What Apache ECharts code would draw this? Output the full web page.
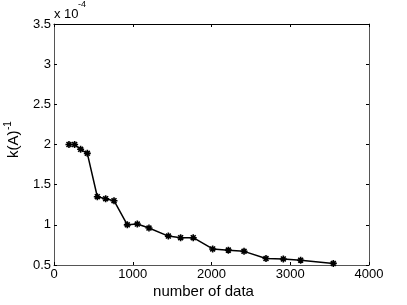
<!DOCTYPE html>
<html><head><meta charset="utf-8">
<script src="https://cdn.jsdelivr.net/npm/echarts@6/dist/echarts.min.js"></script>
<style>html,body{margin:0;padding:0;background:#fff}#c{width:407px;height:305px}</style>
</head><body><div id="c"></div>
<script>
const xValues = [190, 262, 338, 423, 550, 656, 762, 931, 1058, 1206, 1452, 1608, 1768, 2015, 2214, 2413, 2692, 2912, 3132, 3547];
const yValues = [2.0, 2.0, 1.94, 1.89, 1.35, 1.325, 1.30, 1.0, 1.01, 0.96, 0.86, 0.84, 0.84, 0.70, 0.685, 0.67, 0.58, 0.575, 0.56, 0.52];
const xTicks = [0, 1000, 2000, 3000, 4000];
const yTicks = [0.5, 1, 1.5, 2, 2.5, 3, 3.5];

const chart = echarts.init(document.getElementById('c'), null, {renderer: 'canvas'});
const font = 'Liberation Sans, Arial, sans-serif';
const axisCol = '#555';
const starPath = 'path://M0,-5L0,5M-5,0L5,0M-3.5,-3.5L3.5,3.5M-3.5,3.5L3.5,-3.5';
const baseX = {
  type: 'value', min: xTicks[0], max: xTicks[xTicks.length-1], interval: 1000,
  splitLine: {show: false},
  axisLine: {show: true, onZero: false, lineStyle: {color: axisCol, width: 1}},
  axisTick: {show: true, inside: true, length: 3, lineStyle: {color: '#000'}},
};
const baseY = {
  type: 'value', min: yTicks[0], max: yTicks[yTicks.length-1], interval: 0.5,
  splitLine: {show: false},
  axisLine: {show: true, onZero: false, lineStyle: {color: axisCol, width: 1}},
  axisTick: {show: true, inside: true, length: 3, lineStyle: {color: '#000'}},
};
chart.setOption({
  animation: false,
  grid: {left: 54, right: 38, top: 24, bottom: 40, show: false},
  xAxis: [
    Object.assign({}, baseX, {position: 'bottom',
      axisLabel: {color: '#000', fontFamily: font, fontSize: 13, margin: 3,
        formatter: v => String(v)}}),
    Object.assign({}, baseX, {position: 'top', axisLabel: {show: false},
      axisLine: {show: true, onZero: false, lineStyle: {color: '#000', width: 1}}})
  ],
  yAxis: [
    Object.assign({}, baseY, {position: 'left',
      axisLabel: {color: '#000', fontFamily: font, fontSize: 13, margin: 3,
        formatter: v => String(v)}}),
    Object.assign({}, baseY, {position: 'right', axisLabel: {show: false}})
  ],
  series: [{
    type: 'line',
    xAxisIndex: 0, yAxisIndex: 0,
    data: xValues.map((x, i) => [x, yValues[i]]),
    lineStyle: {color: '#000', width: 1.5},
    symbol: starPath,
    symbolSize: 7,
    itemStyle: {color: '#000', borderColor: '#000', borderWidth: 1.6},
    showSymbol: true
  }],
  graphic: [
    {type: 'text', left: 54, top: 8, style: {text: 'x 10', font: '13px ' + font, fill: '#000'}},
    {type: 'text', left: 78, top: 0, style: {text: '-4', font: '9px ' + font, fill: '#000'}},
    {type: 'text', x: 21, y: 158, rotation: Math.PI/2,
      style: {text: 'k(A)', font: '15px ' + font, fill: '#000', textAlign: 'left', textVerticalAlign: 'bottom'}},
    {type: 'text', x: 13, y: 130, rotation: Math.PI/2,
      style: {text: '-1', font: '10px ' + font, fill: '#000', textAlign: 'left', textVerticalAlign: 'bottom'}},
    {type: 'text', left: 'center', top: 284, style: {text: 'number of data', font: '15px ' + font, fill: '#000'}}
  ]
});
</script></body></html>
